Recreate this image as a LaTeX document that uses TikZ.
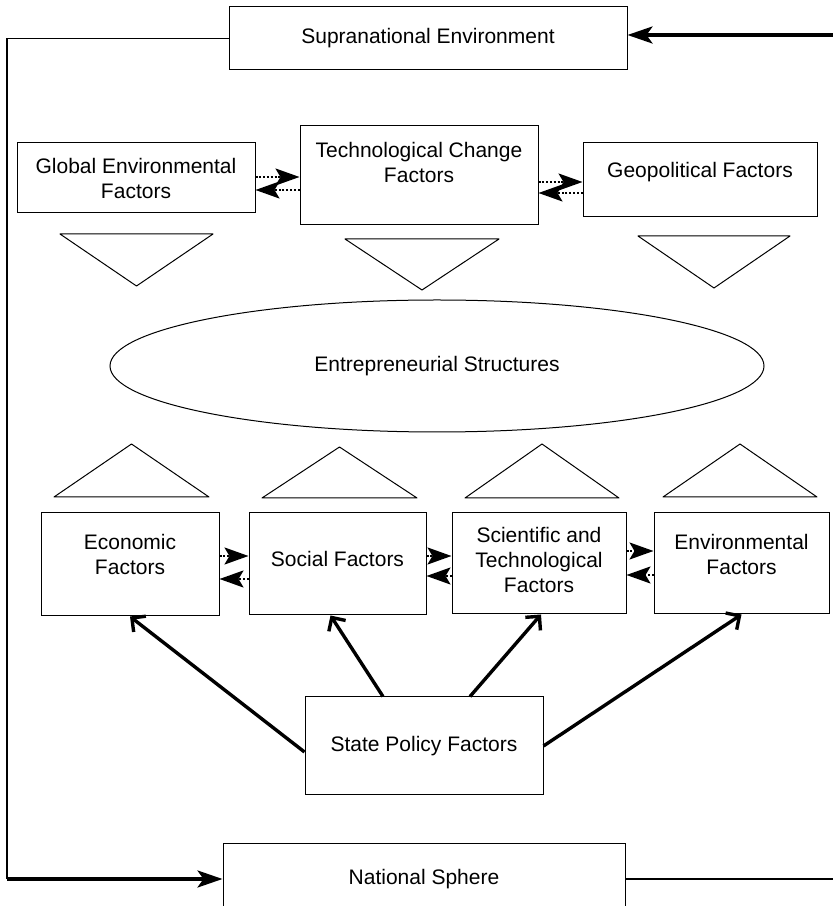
\documentclass[tikz,border=0pt]{standalone}
\usepackage{fontspec}
\setmainfont{Liberation Sans}
\usetikzlibrary{arrows.meta, calc, positioning, shapes.geometric}

\begin{document}
\begin{tikzpicture}[x=1pt, y=1pt,
  box/.style={draw, line width=1pt, inner sep=0pt, align=center,
              font=\fontsize{21}{25}\selectfont},
  txt/.style={inner sep=0pt, align=center, font=\fontsize{21}{25}\selectfont},
  pairarrow/.style={line width=2.2pt, dash pattern=on 2pt off 1.8pt,
                    -{Stealth[length=24pt, width=17pt, inset=5pt]}},
  policyarrow/.style={line width=3.4pt, -{Straight Barb[length=10pt, width=20pt]}},
  feedarrow/.style={line width=3.4pt, -{Stealth[length=25pt, width=17pt, inset=6pt]}},
  loopline/.style={line width=1.4pt},
  tri/.style={line width=1pt, line join=round}
]
  \useasboundingbox (0,0) rectangle (833,906);
  \clip (0,0) rectangle (833,906);

  % ── outer frame ──
  \node[box, minimum width=398, minimum height=63] (supra) at (428, 867.5) {Supranational Environment};
  \node[box, minimum width=402, minimum height=70] (nat) at (424, 27) {National Sphere};
  \coordinate (loopCorner) at (7, 27);
  \coordinate (supraIn) at (833, 871);
  \coordinate (natOut) at (833, 27);
  \draw[loopline] (supra.west) -| (loopCorner);
  \draw[feedarrow] (loopCorner) -- (nat.west);
  \draw[feedarrow] (supraIn) -- (supraIn -| supra.east);
  \draw[loopline] (nat.east) -- (natOut);

  % ── global level ──
  \node[box, minimum width=238, minimum height=70] (glob) at (136, 728) {Global Environmental\\Factors};
  \node[box, minimum width=238, minimum height=99] (tech) at (419, 730.5) {};
  \node[txt] (techT) at ([yshift=13pt]tech.center) {Technological Change\\Factors};
  \node[box, minimum width=234, minimum height=74] (geo) at (700, 726) {};
  \node[txt] (geoT) at ([yshift=8pt]geo.center) {Geopolitical Factors};

  \draw[pairarrow] ([yshift=1pt]glob.east) -- ([yshift=1pt]glob.east -| tech.west);
  \draw[pairarrow] ([yshift=-12pt]glob.east -| tech.west) -- ([yshift=-12pt]glob.east);
  \draw[pairarrow] ([yshift=-6.5pt]tech.east) -- ([yshift=-6.5pt]tech.east -| geo.west);
  \draw[pairarrow] ([yshift=-17.5pt]tech.east -| geo.west) -- ([yshift=-17.5pt]tech.east);

  \foreach \l/\r/\b/\a in {60/213/672/620, 345/499/667/616, 638/790/670/618}
    \draw[tri] (\l,\b) -- (\r,\b) -- ({(\l+\r)/2},\a) -- cycle;

  % ── core ──
  \node[draw, ellipse, line width=1pt, minimum width=654, minimum height=132,
        font=\fontsize{21}{25}\selectfont] (entre) at (437, 540) {Entrepreneurial Structures};

  \foreach \l/\r/\b/\a in {54/209/409/462, 262/417/408/459, 465/619/408/462, 663/817/409/462}
    \draw[tri] (\l,\b) -- (\r,\b) -- ({(\l+\r)/2},\a) -- cycle;

  % ── national level ──
  \node[box, minimum width=178, minimum height=103] (econ) at (130, 341.5) {};
  \node[txt] (econT) at ([yshift=10pt]econ.center) {Economic\\Factors};
  \node[box, minimum width=177, minimum height=102] (social) at (337.5, 342) {};
  \node[txt] (socialT) at ([yshift=5pt]social.center) {Social Factors};
  \node[box, minimum width=174, minimum height=101] (sci) at (539, 342.5) {};
  \node[txt] (sciT) at ([yshift=4pt]sci.center) {Scientific and\\Technological\\Factors};
  \node[box, minimum width=175, minimum height=101] (env) at (741.5, 342.5) {};
  \node[txt] (envT) at ([yshift=9pt]env.center) {Environmental\\Factors};

  \draw[pairarrow] ([yshift=8.5pt]econ.east) -- ([yshift=8.5pt]econ.east -| social.west);
  \draw[pairarrow] ([yshift=-14.5pt]econ.east -| social.west) -- ([yshift=-14.5pt]econ.east);
  \draw[pairarrow] ([yshift=8pt]social.east) -- ([yshift=8pt]social.east -| sci.west);
  \draw[pairarrow] ([yshift=-12pt]social.east -| sci.west) -- ([yshift=-12pt]social.east);
  \draw[pairarrow] ([yshift=12.5pt]sci.east) -- ([yshift=12.5pt]sci.east -| env.west);
  \draw[pairarrow] ([yshift=-11.5pt]sci.east -| env.west) -- ([yshift=-11.5pt]sci.east);

  % ── state policy ──
  \node[box, minimum width=238, minimum height=98] (state) at (424, 160) {State Policy Factors};
  \draw[policyarrow] ([yshift=-6pt]state.west) -- (econ.south);
  \draw[policyarrow] ([xshift=-41pt]state.north) -- ([xshift=-7pt]social.south);
  \draw[policyarrow] ([xshift=46pt]state.north) -- ([xshift=2pt]sci.south);
  \draw[policyarrow] (state.east) -- (env.south);
\end{tikzpicture}
\end{document}
